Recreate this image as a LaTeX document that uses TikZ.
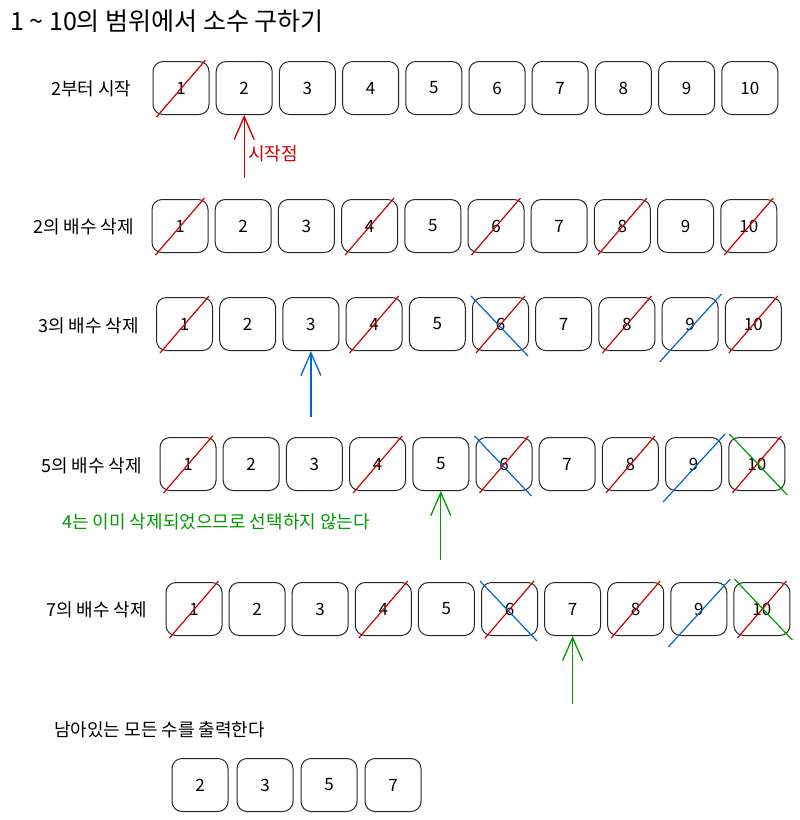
\documentclass[tikz,border=0pt]{standalone}
\usepackage{fontspec}
\setmainfont{Noto Sans CJK KR}
\usetikzlibrary{arrows.meta}

\definecolor{cutred}{RGB}{204,0,0}
\definecolor{cutblue}{RGB}{0,102,204}
\definecolor{cutgreen}{RGB}{0,153,0}

\tikzset{
    numbox/.style={draw=black!85, line width=1pt, rounded corners=10pt, minimum width=56pt, minimum height=53pt, inner sep=0pt, font=\fontsize{17}{20}\selectfont},
    rowlabel/.style={anchor=west, inner sep=0pt, font=\fontsize{18}{21}\selectfont},
    redcut/.style={cutred, line width=1.2pt},
    bluecut/.style={cutblue, line width=1.2pt},
    greencut/.style={cutgreen, line width=1.2pt},
    pointer/.style={line width=1.3pt, -{Straight Barb[length=23pt, width=20pt]}}
}

\begin{document}
\begin{tikzpicture}[x=1pt, y=-1pt]
        \useasboundingbox (0,0) rectangle (800,820);

        % Define the title
        \node[anchor=west, inner sep=0pt, font=\fontsize{25}{30}\selectfont] (title) at (10,21) {1 \textasciitilde{} 10의 범위에서 소수 구하기};

        % Define the rows of numbers
        \foreach \n in {1,...,10} {
            \node[numbox] (start-\n) at ({181+63.2*(\n-1)},88) {\n};
            \node[numbox] (two-\n) at ({180+63.2*(\n-1)},226) {\n};
            \node[numbox] (three-\n) at ({184.5+63.2*(\n-1)},324) {\n};
            \node[numbox] (five-\n) at ({188+63.2*(\n-1)},464) {\n};
            \node[numbox] (seven-\n) at ({194+63.1*(\n-1)},609) {\n};
        }
        \node[numbox] (out-2) at (200,785) {2};
        \node[numbox] (out-3) at (265,785) {3};
        \node[numbox] (out-5) at (329,785) {5};
        \node[numbox] (out-7) at (393,785) {7};

        % Define the row labels
        \node[rowlabel] (startlabel) at (51,89) {2부터 시작};
        \node[rowlabel] (twolabel) at (33,227) {2의 배수 삭제};
        \node[rowlabel] (threelabel) at (38,326) {3의 배수 삭제};
        \node[rowlabel] (fivelabel) at (41,466) {5의 배수 삭제};
        \node[rowlabel] (sevenlabel) at (46,610) {7의 배수 삭제};
        \node[rowlabel] (outlabel) at (54,730) {남아있는 모든 수를 출력한다};
        \node[rowlabel, text=cutgreen] (skipnote) at (62,522) {4는 이미 삭제되었으므로 선택하지 않는다};
        \node[rowlabel, text=cutred] (startnote) at (248,154) {시작점};

        % Define the pointers
        \coordinate (startfoot) at ([yshift=-63pt]start-2.south);
        \coordinate (threefoot) at ([yshift=-66pt]three-3.south);
        \coordinate (fivefoot) at ([yshift=-69pt]five-5.south);
        \coordinate (sevenfoot) at ([yshift=-68pt]seven-7.south);
        \draw[pointer, cutred] (startfoot) -- (start-2.south);
        \draw[pointer, cutblue] (threefoot) -- (three-3.south);
        \draw[pointer, cutgreen] (fivefoot) -- (five-5.south);
        \draw[pointer, cutgreen] (sevenfoot) -- (seven-7.south);

        % Define the crossings
        \draw[redcut] ([xshift=4pt, yshift=-2pt]start-1.south west) -- ([xshift=-4pt, yshift=1pt]start-1.north east);
        \foreach \r in {two, three, five, seven} {
            \foreach \n in {1,4,6,8,10}
                \draw[redcut] ([xshift=4pt, yshift=-2pt]\r-\n.south west) -- ([xshift=-4pt, yshift=1pt]\r-\n.north east);
        }
        \foreach \r in {three, five, seven} {
            \draw[bluecut] ([xshift=-1pt, yshift=1pt]\r-6.north west) -- ([xshift=-1pt, yshift=-5pt]\r-6.south east);
            \draw[bluecut] ([xshift=-2pt, yshift=-11pt]\r-9.south west) -- ([xshift=3pt, yshift=3pt]\r-9.north east);
        }
        \foreach \r in {five, seven}
            \draw[greencut] ([xshift=1pt, yshift=3pt]\r-10.north west) -- ([xshift=2pt, yshift=-4pt]\r-10.south east);
    \end{tikzpicture}
\end{document}
